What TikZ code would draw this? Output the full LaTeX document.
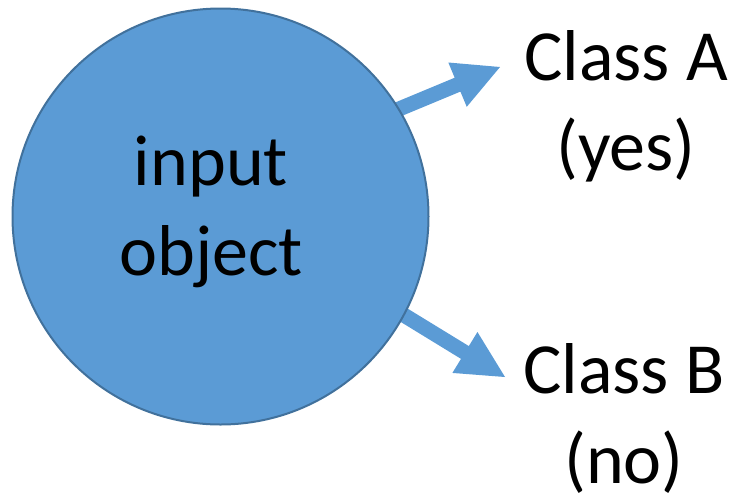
\documentclass[tikz,border=0pt]{standalone}
\usepackage{fontspec}
\setmainfont{Carlito}
\usetikzlibrary{calc}
\pgfdeclarelayer{background}
\pgfsetlayers{background,main}
\definecolor{objblue}{HTML}{5B9BD5}
\definecolor{objedge}{HTML}{41719C}
\begin{document}
\begin{tikzpicture}[x=0.75pt,y=-0.75pt,
  lbl/.style={font=\fontsize{54pt}{67.5pt}\selectfont, align=center, inner sep=0pt, text=black},
  blockarrow/.style={fill=objblue, draw=none}]
\useasboundingbox (0,0) rectangle (735,501);

% the input object (labels are anchored at the baseline of their last line)
\node[circle, fill=objblue, draw=objedge, line width=1.5pt,
      minimum size=312pt, inner sep=0pt] (obj) at (220.5,216.5) {};
\node[lbl, anchor=base] (objtext) at (211,275) {input\\object};

% class labels
\node[lbl, anchor=base] (classA) at (626,170) {Class A\\(yes)};
\node[lbl, anchor=base] (classB) at (624,483) {Class B\\(no)};

% block arrows from the object to the two classes
\coordinate (tipA) at (500,67);
\coordinate (tailA) at (380,116.9);
\coordinate (tipB) at (505,377);
\coordinate (tailB) at (385.6,303.9);
\coordinate (baseA) at ($(tipA)!46/130!(tailA)$);
\coordinate (baseB) at ($(tipB)!47/140!(tailB)$);

\begin{pgfonlayer}{background}
\fill[blockarrow]
  ($(tailA)!7.5/130!90:(tipA)$) -- ($(baseA)!7.5/46!90:(tipA)$) --
  ($(baseA)!24/46!90:(tipA)$) -- (tipA) --
  ($(baseA)!24/46!-90:(tipA)$) -- ($(baseA)!7.5/46!-90:(tipA)$) --
  ($(tailA)!7.5/130!-90:(tipA)$) -- cycle;
\fill[blockarrow]
  ($(tailB)!7.5/140!90:(tipB)$) -- ($(baseB)!7.5/47!90:(tipB)$) --
  ($(baseB)!24/47!90:(tipB)$) -- (tipB) --
  ($(baseB)!24/47!-90:(tipB)$) -- ($(baseB)!7.5/47!-90:(tipB)$) --
  ($(tailB)!7.5/140!-90:(tipB)$) -- cycle;
\end{pgfonlayer}
\end{tikzpicture}
\end{document}
